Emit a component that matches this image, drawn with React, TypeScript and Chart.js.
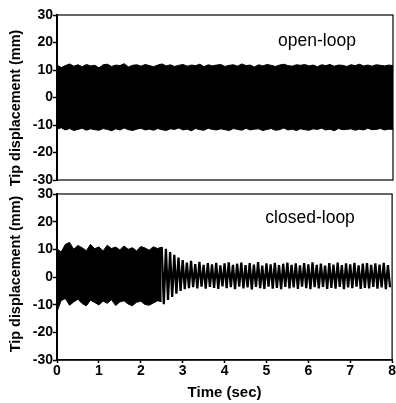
import React, { useEffect, useRef } from 'react';
import { Chart, registerables } from 'chart.js';

Chart.register(...registerables);

const FONT = "'Liberation Sans', Arial, Helvetica, sans-serif";

// Time axis
const X_MIN = 0;
const X_MAX = 8;
const X_STEP = 1;
const Y_MIN = -30;
const Y_MAX = 30;
const Y_STEP = 10;

// Open-loop response: envelope of dense vibration (mm), sampled every 0.1 s from 0 to 8 s
const OPEN_START = 0;
const OPEN_STEP = 0.1;
const openUpper = [
  11.8, 10.9, 11.6, 12.2, 11.4, 11.9, 11.2, 12.0, 11.5, 11.7,
  10.8, 11.9, 12.1, 11.3, 11.8, 11.6, 12.3, 11.1, 11.7, 11.9,
  11.4, 12.0, 11.6, 11.2, 11.8, 12.2, 11.5, 11.9, 11.3, 11.7,
  12.0, 11.4, 11.8, 11.6, 12.1, 11.2, 11.9, 11.5, 11.8, 12.0,
  11.3, 11.7, 11.9, 11.4, 12.2, 11.6, 11.8, 11.1, 11.9, 11.5,
  12.0, 11.7, 11.3, 11.8, 12.1, 11.6, 11.4, 11.9, 11.7, 12.0,
  11.5, 11.8, 11.2, 11.9, 11.6, 12.0, 11.4, 11.8, 11.7, 11.3,
  11.9, 11.6, 12.1, 11.5, 11.8, 11.4, 11.9, 11.7, 11.5, 11.8,
  11.6,
];
const openLower = [
  -11.5, -11.0, -11.8, -11.3, -12.0, -11.6, -11.2, -11.9, -11.4, -11.7,
  -11.9, -11.3, -11.6, -12.1, -11.4, -11.8, -11.1, -11.7, -12.0, -11.5,
  -11.2, -11.8, -11.5, -11.9, -11.3, -11.7, -12.0, -11.4, -11.6, -11.1,
  -11.8, -11.5, -12.1, -11.3, -11.7, -11.9, -11.2, -11.6, -11.8, -11.4,
  -11.7, -12.0, -11.3, -11.6, -11.9, -11.2, -11.8, -11.5, -11.4, -12.0,
  -11.6, -11.3, -11.9, -11.7, -11.1, -11.8, -11.5, -12.0, -11.4, -11.7,
  -11.9, -11.4, -11.6, -11.2, -11.8, -11.5, -12.1, -11.3, -11.7, -11.6,
  -11.4, -11.9, -11.5, -11.8, -11.2, -11.7, -11.6, -11.3, -11.8, -11.5,
  -11.6,
];

// Closed-loop response, before control settles: envelope every 0.1 s from 0 to 2.5 s
const BAND_START = 0;
const BAND_STEP = 0.1;
const closedBandUpper = [
  10.2, 9.0, 11.8, 12.5, 10.0, 11.4, 10.6, 9.5, 11.8, 10.2,
  10.9, 9.4, 11.5, 10.3, 10.8, 9.8, 11.2, 10.0, 10.6, 9.4,
  11.0, 10.5, 9.7, 10.9, 10.3, 10.8,
];
const closedBandLower = [
  -12.5, -8.5, -7.8, -10.2, -9.0, -8.0, -9.6, -10.4, -8.4, -9.2,
  -10.1, -8.7, -9.5, -8.2, -10.3, -9.0, -8.6, -9.8, -10.4, -9.1,
  -8.8, -9.9, -10.2, -9.4, -8.6, -8.9,
];

// Closed-loop decaying oscillation: alternating peaks every 0.05 s from 2.5 s
const TAIL_START = 2.5;
const TAIL_STEP = 0.05;
const closedTail = [
  10.8, -9.8, 10.2, -8.3, 9.0, -7.2, 8.0, -6.0, 7.0, -5.0,
  6.1, -4.4, 5.2, -4.0, 5.8, -3.7, 4.7, -4.1, 5.5, -3.5,
  4.4, -4.2, 5.0, -3.6, 4.6, -3.9, 5.1, -4.3, 4.2, -3.4,
  4.9, -4.0, 5.3, -3.7, 4.4, -4.4, 4.8, -3.5, 5.2, -4.1,
  4.3, -3.8, 5.0, -4.5, 4.5, -3.6, 5.4, -4.0, 4.1, -4.3,
  4.9, -3.5, 4.6, -4.2, 5.1, -3.9, 4.3, -4.4, 4.8, -3.6,
  5.2, -4.1, 4.4, -3.8, 4.9, -4.3, 4.2, -3.5, 5.0, -4.0,
  4.6, -4.4, 5.3, -3.7, 4.4, -4.1, 4.8, -3.6, 4.1, -4.3,
  5.0, -3.9, 4.5, -4.2, 5.2, -3.6, 4.3, -4.4, 4.9, -3.8,
  4.6, -4.0, 5.1, -3.5, 4.2, -4.3, 4.8, -3.9, 5.0, -4.1,
  4.4, -3.6, 4.9, -4.2, 4.5, -3.8, 5.1, -4.4, 4.3, -3.7,
];

const Y_TITLE = 'Tip displacement (mm)';
const X_TITLE = 'Time (sec)';
const OPEN_LABEL = 'open-loop';
const CLOSED_LABEL = 'closed-loop';

const toPoints = (values: number[], start: number, step: number) =>
  values.map((v, i) => ({ x: +(start + i * step).toFixed(4), y: v }));

const tickFont = { family: FONT, size: 14, weight: 'bold' as const };

function makeYScale() {
  return {
    type: 'linear' as const,
    min: Y_MIN,
    max: Y_MAX,
    afterFit: (s: any) => {
      s.width = 57;
    },
    ticks: { stepSize: Y_STEP, color: '#000', font: tickFont, padding: 0 },
    grid: {
      display: true,
      drawOnChartArea: false,
      drawTicks: true,
      tickLength: 4,
      tickColor: '#000',
      tickWidth: 1.5,
    },
    border: { display: true, color: '#000', width: 2 },
  };
}

function decorPlugin(label: string, labelDx: number, labelDy: number, titleY: number) {
  return {
    id: 'decor',
    afterDraw(chart: any) {
      const { ctx, chartArea } = chart;
      const { left, top, right, bottom } = chartArea;
      ctx.save();
      ctx.strokeStyle = '#000';
      ctx.lineWidth = 1.2;
      ctx.strokeRect(left, top, right - left, bottom - top);
      ctx.fillStyle = '#000';
      ctx.font = `17.5px ${FONT}`;
      ctx.textAlign = 'center';
      ctx.textBaseline = 'alphabetic';
      ctx.fillText(label, right - labelDx, top + labelDy);
      ctx.translate(16.5, titleY);
      ctx.rotate(-Math.PI / 2);
      ctx.font = `bold 14.4px ${FONT}`;
      ctx.textBaseline = 'middle';
      ctx.fillText(Y_TITLE, 0, 0);
      ctx.restore();
    },
  };
}

const lineBase = {
  borderColor: '#000',
  pointRadius: 0,
  tension: 0,
};

export default function App() {
  const topRef = useRef<HTMLCanvasElement>(null);
  const botRef = useRef<HTMLCanvasElement>(null);

  useEffect(() => {
    const top = new Chart(topRef.current!, {
      type: 'line',
      data: {
        datasets: [
          { ...lineBase, data: toPoints(openUpper, OPEN_START, OPEN_STEP), borderWidth: 1, fill: false },
          {
            ...lineBase,
            data: toPoints(openLower, OPEN_START, OPEN_STEP),
            borderWidth: 1,
            fill: '-1',
            backgroundColor: '#000',
          },
        ],
      },
      options: {
        responsive: false,
        animation: false,
        devicePixelRatio: 1,
        layout: { padding: { top: 15, right: 3, bottom: 10, left: 0 } },
        plugins: { legend: { display: false }, tooltip: { enabled: false } },
        scales: {
          x: { type: 'linear', min: X_MIN, max: X_MAX, display: false },
          y: makeYScale(),
        },
      },
      plugins: [decorPlugin(OPEN_LABEL, 76, 31, 108)],
    } as any);

    const bot = new Chart(botRef.current!, {
      type: 'line',
      data: {
        datasets: [
          { ...lineBase, data: toPoints(closedBandUpper, BAND_START, BAND_STEP), borderWidth: 1, fill: false },
          {
            ...lineBase,
            data: toPoints(closedBandLower, BAND_START, BAND_STEP),
            borderWidth: 1,
            fill: '-1',
            backgroundColor: '#000',
          },
          { ...lineBase, data: toPoints(closedTail, TAIL_START, TAIL_STEP), borderWidth: 2.3, fill: false },
        ],
      },
      options: {
        responsive: false,
        animation: false,
        devicePixelRatio: 1,
        layout: { padding: { top: 10, right: 3, bottom: 0, left: 0 } },
        plugins: { legend: { display: false }, tooltip: { enabled: false } },
        scales: {
          x: {
            type: 'linear',
            min: X_MIN,
            max: X_MAX,
            afterFit: (s: any) => {
              s.height = 43;
            },
            ticks: { stepSize: X_STEP, color: '#000', font: tickFont, padding: 0, maxRotation: 0 },
            grid: {
              display: true,
              drawOnChartArea: false,
              drawTicks: true,
              tickLength: 3,
              tickColor: '#000',
              tickWidth: 1.5,
            },
            border: { display: true, color: '#000', width: 1.5 },
            title: {
              display: true,
              text: X_TITLE,
              color: '#000',
              font: { family: FONT, size: 15, weight: 'bold' },
              padding: { top: 0, bottom: 1 },
            },
          },
          y: makeYScale(),
        },
      },
      plugins: [decorPlugin(CLOSED_LABEL, 82, 29, 90)],
    } as any);

    return () => {
      top.destroy();
      bot.destroy();
    };
  }, []);

  return (
    <div style={{ position: 'absolute', left: 0, top: 0, width: 396, height: 403, background: '#fff' }}>
      <canvas
        ref={topRef}
        width={396}
        height={190}
        style={{ position: 'absolute', left: 0, top: 0, width: 396, height: 190, display: 'block' }}
      />
      <canvas
        ref={botRef}
        width={396}
        height={219}
        style={{ position: 'absolute', left: 0, top: 184, width: 396, height: 219, display: 'block' }}
      />
    </div>
  );
}
